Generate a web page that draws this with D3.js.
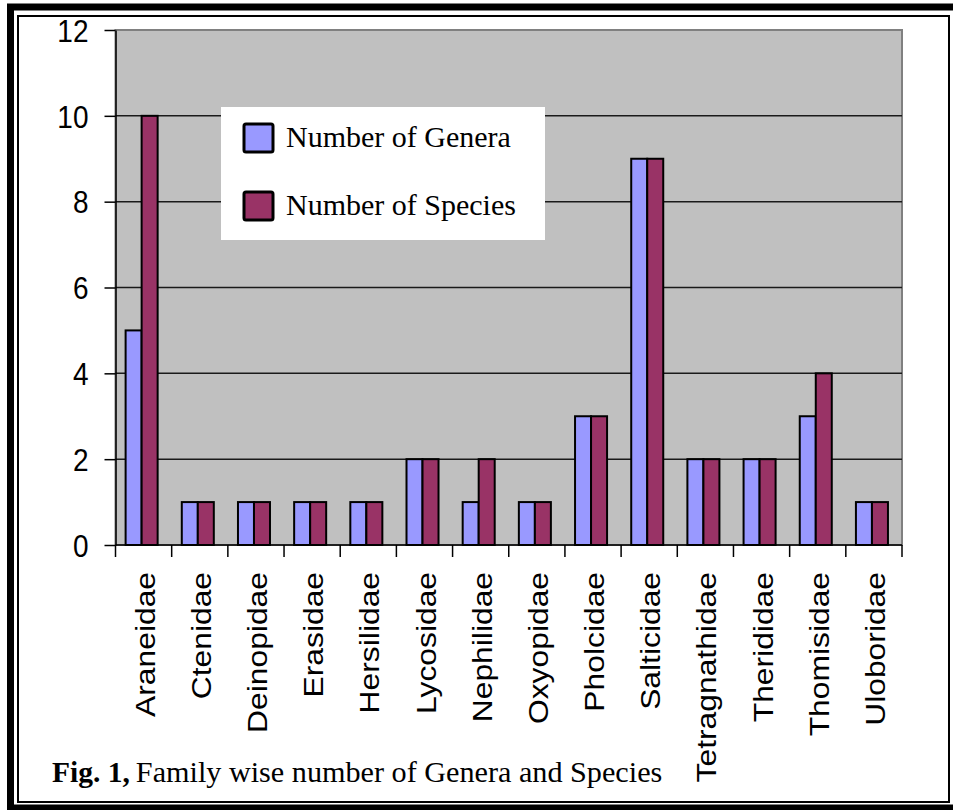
<!DOCTYPE html>
<html>
<head>
<meta charset="utf-8">
<script src="https://cdn.jsdelivr.net/npm/d3@7/dist/d3.min.js"></script>
<style>
  html, body { margin: 0; padding: 0; background: #ffffff; }
  svg { display: block; }
</style>
</head>
<body>
<script>
// Spider families and their counts of genera and species
const categories = ["Araneidae", "Ctenidae", "Deinopidae", "Erasidae", "Hersilidae",
  "Lycosidae", "Nephilidae", "Oxyopidae", "Pholcidae", "Salticidae",
  "Tetragnathidae", "Therididae", "Thomisidae", "Uloboridae"];
const genera  = [5, 1, 1, 1, 1, 2, 1, 1, 3, 9, 2, 2, 3, 1];
const species = [10, 1, 1, 1, 1, 2, 2, 1, 3, 9, 2, 2, 4, 1];
const yTicks = [0, 2, 4, 6, 8, 10, 12];
const seriesNames = ["Number of Genera", "Number of Species"];
const seriesColors = ["#9999FF", "#993366"];
const captionBold = "Fig. 1,";
const captionText = "Family wise number of Genera and Species";

const W = 953, H = 810;
const plot = { left: 115.5, right: 902, top: 30, bottom: 545 };

const svg = d3.select("body").append("svg")
  .attr("width", W).attr("height", H);

// Page frame: heavy outer rule and thin inner rule
svg.append("rect").attr("x", 10.5).attr("y", 7).attr("width", 960).attr("height", 801)
  .attr("fill", "#fff").attr("stroke", "#000").attr("stroke-width", 7);
svg.append("rect").attr("x", 18).attr("y", 16).attr("width", 931).attr("height", 786)
  .attr("fill", "none").attr("stroke", "#000").attr("stroke-width", 2);

const x0 = d3.scaleBand().domain(categories).range([plot.left, plot.right]).padding(0);
const x1 = d3.scaleBand().domain(seriesNames)
  .range([x0.bandwidth() * 0.18, x0.bandwidth() * 0.75]).padding(0);
const y = d3.scaleLinear().domain([0, 12]).range([plot.bottom, plot.top]);

// Plot area
svg.append("rect")
  .attr("x", plot.left).attr("y", plot.top)
  .attr("width", plot.right - plot.left).attr("height", plot.bottom - plot.top)
  .attr("fill", "#C0C0C0").attr("stroke", "#808080").attr("stroke-width", 2);

// Horizontal gridlines
svg.append("g").selectAll("line")
  .data(yTicks.filter(d => d > 0 && d < 12))
  .join("line")
  .attr("x1", plot.left).attr("x2", plot.right)
  .attr("y1", d => y(d)).attr("y2", d => y(d))
  .attr("stroke", "#1a1a1a").attr("stroke-width", 1.5);

// Bars
const rows = categories.map((c, i) => ({ cat: c, values: [genera[i], species[i]] }));
const groups = svg.append("g").selectAll("g")
  .data(rows).join("g")
  .attr("transform", d => `translate(${x0(d.cat)},0)`);
groups.selectAll("rect")
  .data(d => d.values.map((v, k) => ({ key: seriesNames[k], value: v, color: seriesColors[k] })))
  .join("rect")
  .attr("x", d => x1(d.key))
  .attr("width", x1.bandwidth())
  .attr("y", d => y(d.value))
  .attr("height", d => y(0) - y(d.value))
  .attr("fill", d => d.color)
  .attr("stroke", "#000").attr("stroke-width", 2);

// Y axis
const yAxis = svg.append("g")
  .attr("transform", `translate(${plot.left},0)`)
  .call(d3.axisLeft(y).tickValues(yTicks).tickSize(11).tickPadding(16).tickSizeOuter(0));
yAxis.select(".domain").attr("stroke", "#000").attr("stroke-width", 1.5);
yAxis.selectAll(".tick line").attr("stroke", "#000").attr("stroke-width", 1.5);
yAxis.selectAll(".tick text")
  .attr("font-family", "'Liberation Sans', Arial, sans-serif")
  .attr("font-size", 28).attr("fill", "#000")
  .attr("dy", "0.36em")
  .attr("transform", "scale(1,1.12)");

// X axis: ticks at category boundaries
const xAxis = svg.append("g")
  .attr("transform", `translate(0,${plot.bottom})`);
xAxis.append("line")
  .attr("x1", plot.left).attr("x2", plot.right)
  .attr("stroke", "#000").attr("stroke-width", 1.5);
const boundaries = categories.map(c => x0(c)).concat([x0.range()[1]]);
xAxis.selectAll("line.tk").data(boundaries).join("line")
  .attr("class", "tk")
  .attr("x1", d => d).attr("x2", d => d)
  .attr("y1", 0).attr("y2", 12)
  .attr("stroke", "#000").attr("stroke-width", 1.5);
xAxis.selectAll("text").data(categories).join("text")
  .attr("transform", d => `translate(${x0(d) + x0.bandwidth() / 2 + 1},27) rotate(-90) scale(1.136,1)`)
  .attr("text-anchor", "end")
  .attr("dy", "0.36em")
  .attr("font-family", "'Liberation Sans', Arial, sans-serif")
  .attr("font-size", 28).attr("fill", "#000")
  .text(d => d);

// Legend
const legend = svg.append("g");
legend.append("rect")
  .attr("x", 221).attr("y", 107).attr("width", 324).attr("height", 133)
  .attr("fill", "#fff");
const items = legend.selectAll("g").data(seriesNames).join("g")
  .attr("transform", (d, i) => `translate(244,${124 + i * 68})`);
items.append("rect")
  .attr("width", 29).attr("height", 28).attr("rx", 2)
  .attr("fill", (d, i) => seriesColors[i])
  .attr("stroke", "#000").attr("stroke-width", 3);
items.append("text")
  .attr("x", 42).attr("y", 23)
  .attr("font-family", "'Liberation Serif', 'Times New Roman', serif")
  .attr("font-size", 30).attr("fill", "#000")
  .text(d => d);

// Caption
const cap = svg.append("text")
  .attr("x", 52).attr("y", 782)
  .attr("font-family", "'Liberation Serif', 'Times New Roman', serif")
  .attr("fill", "#000");
cap.append("tspan").attr("font-weight", "bold").attr("font-size", 29.5).text(captionBold);
cap.append("tspan").attr("dx", 6).attr("font-size", 30.2).text(captionText);
</script>
</body>
</html>
